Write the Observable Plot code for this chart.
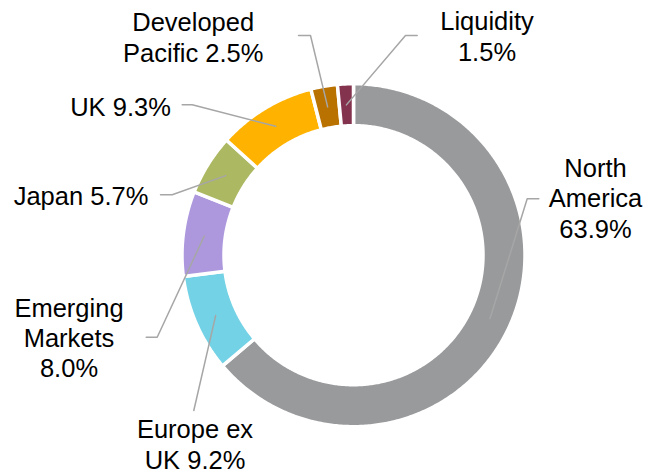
<!DOCTYPE html>
<html>
<head>
<meta charset="utf-8">
<script src="https://cdn.jsdelivr.net/npm/d3@7"></script>
<script src="https://cdn.jsdelivr.net/npm/@observablehq/plot@0.6"></script>
<style>
  html, body { margin: 0; padding: 0; background: #fff; }
  #chart { width: 648px; height: 472px; }
</style>
</head>
<body>
<div id="chart"></div>
<script>
// ---- Data ----
const categories = ["North America", "Europe ex UK", "Emerging Markets", "Japan", "UK", "Developed Pacific", "Liquidity"];
const shares = [63.9, 9.2, 8.0, 5.7, 9.3, 2.5, 1.5];
const labelTexts = ["North\nAmerica\n63.9%", "Europe ex\nUK 9.2%", "Emerging\nMarkets\n8.0%", "Japan 5.7%", "UK 9.3%", "Developed\nPacific 2.5%", "Liquidity\n1.5%"];

// ---- Styles ----
const colors = ["#999A9C", "#73D2E5", "#AD98DD", "#ADB862", "#FFB300", "#B97100", "#84334F"];

// ---- Layout (pixels) ----
const W = 648, H = 472;
const CX = 353, CY = 254.7, R_OUT = 171.5, R_IN = 129.5, R_MID = 150.5;
// label anchor [x, last baseline y]
const labelPos = [[595, 237], [194.5, 468], [68.5, 376.5], [80.5, 204], [120, 115], [192.7, 61], [486.5, 60]];
// leader line start and optional elbow
const leaderStart = [[538.3, 198.3], [193.3, 410], [145.7, 336.7], [160, 194.3], [181.7, 104.3], [298, 35], [416.7, 35]];
const leaderElbow = [[526.7, 198.3], null, [156.7, 336.7], [171.7, 194.3], [191.7, 104.3], [310, 35], [405, 35]];

// ---- Geometry from data ----
const pie = d3.pie().sort(null).value(d => d)(shares);
const polar = (a, r) => [CX + r * Math.sin(a), CY - r * Math.cos(a)];

const slicePts = [];
pie.forEach((p, i) => {
  const n = Math.max(4, Math.ceil((p.endAngle - p.startAngle) / 0.01));
  for (let k = 0; k <= n; k++) {
    const a = p.startAngle + (p.endAngle - p.startAngle) * k / n;
    const [x, y] = polar(a, R_OUT);
    slicePts.push({cat: categories[i], x, y});
  }
  for (let k = n; k >= 0; k--) {
    const a = p.startAngle + (p.endAngle - p.startAngle) * k / n;
    const [x, y] = polar(a, R_IN);
    slicePts.push({cat: categories[i], x, y});
  }
});

const leaderPts = [];
pie.forEach((p, i) => {
  const mid = (p.startAngle + p.endAngle) / 2;
  const [mx, my] = polar(mid, R_MID);
  leaderPts.push({cat: categories[i], x: leaderStart[i][0], y: leaderStart[i][1]});
  if (leaderElbow[i]) leaderPts.push({cat: categories[i], x: leaderElbow[i][0], y: leaderElbow[i][1]});
  leaderPts.push({cat: categories[i], x: mx, y: my});
});

const labels = categories.map((c, i) => ({cat: c, text: labelTexts[i], x: labelPos[i][0], y: labelPos[i][1]}));

const chart = Plot.plot({
  width: W,
  height: H,
  margin: 0,
  style: {fontFamily: "'Liberation Sans', Arial, sans-serif", background: "#fff"},
  x: {domain: [0, W], range: [0, W], axis: null},
  y: {domain: [0, H], range: [0, H], axis: null},
  color: {domain: categories, range: colors},
  marks: [
    Plot.line(slicePts, {x: "x", y: "y", z: "cat", fill: "cat", stroke: "#fff", strokeWidth: 3.5, curve: "linear-closed"}),
    Plot.line(leaderPts, {x: "x", y: "y", z: "cat", stroke: "#A6A6A6", strokeWidth: 1.5}),
    Plot.text(labels, {x: "x", y: "y", text: "text", fontSize: 25.5, lineHeight: 1.18, lineAnchor: "bottom", textAnchor: "middle", fill: "#000"})
  ]
});
document.getElementById("chart").appendChild(chart);
</script>
</body>
</html>
